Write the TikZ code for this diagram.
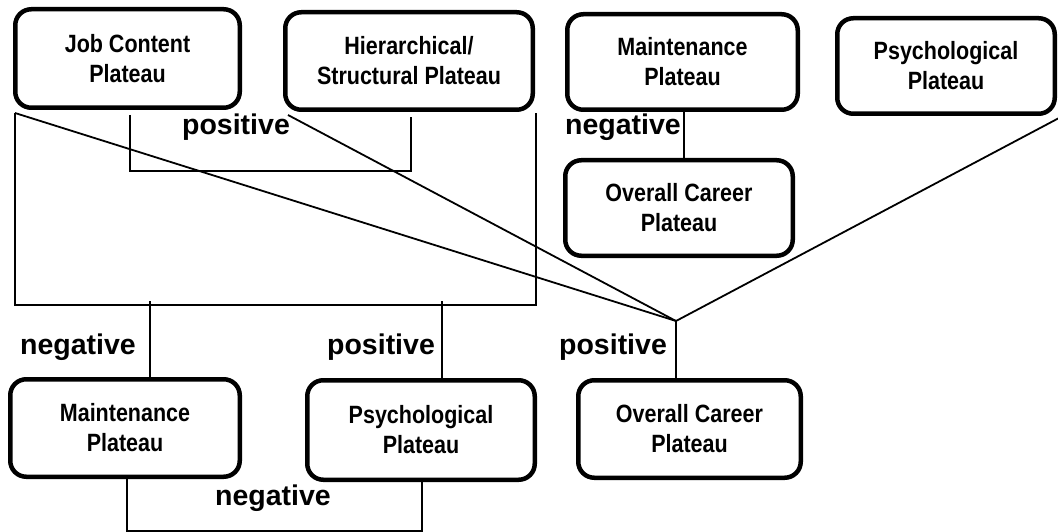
\documentclass[tikz,border=0pt]{standalone}
\usepackage{fontspec}
\setmainfont{Liberation Sans}
\newfontfamily\narrowsans{Liberation Sans}[FakeStretch=0.86]
\begin{document}
\begin{tikzpicture}[x=1pt,y=-1pt,
  plateau/.style={draw, line width=4.5pt, rounded corners=16pt, align=center,
    inner sep=0pt, font=\narrowsans\bfseries\fontsize{25}{30}\selectfont},
  link/.style={line width=1.8pt},
  sign/.style={inner sep=0pt, font=\bfseries\fontsize{28.5}{34}\selectfont}]
\useasboundingbox (0,0) rectangle (1058,532);

% plateau boxes
\node[plateau, minimum width=224.5pt, minimum height=98.5pt] (jc) at (127.5,58.5) {Job Content\\Plateau};
\node[plateau, minimum width=247.5pt, minimum height=97.5pt] (hs) at (409,61) {Hierarchical/\\Structural Plateau};
\node[plateau, minimum width=230.5pt, minimum height=95.5pt] (mt) at (682.5,62) {Maintenance\\Plateau};
\node[plateau, minimum width=217.5pt, minimum height=95.5pt] (pt) at (946,66) {Psychological\\Plateau};
\node[plateau, minimum width=227.5pt, minimum height=95.5pt] (ot) at (679,208) {Overall Career\\Plateau};
\node[plateau, minimum width=229.5pt, minimum height=97.5pt] (mb) at (125,428) {Maintenance\\Plateau};
\node[plateau, minimum width=227.5pt, minimum height=99.5pt] (pb) at (421,430) {Psychological\\Plateau};
\node[plateau, minimum width=222.5pt, minimum height=97.5pt] (ob) at (689.5,429) {Overall Career\\Plateau};

% connection points
\coordinate (jcL) at ([shift={(2,3)}]jc.south west);
\coordinate (jcS) at ([shift={(2.5,5)}]jc.south);
\coordinate (hsL) at ([shift={(5,3)}]hs.south west);
\coordinate (hsS) at ([shift={(2,5)}]hs.south);
\coordinate (hsR) at ([shift={(1,1)}]hs.south east);
\coordinate (ptR) at ([shift={(2,2)}]pt.south east);
\coordinate (apex) at (676,321);

% bracket joining job content and hierarchical plateaus
\draw[link] (jcS) -- ++(0,56) -| (hsS);
% large bracket over both, feeding maintenance and psychological
\draw[link] (jcL) -- ++(0,192) -| (hsR);
\draw[link] ([xshift=25pt]mb.north) -- ++(0,-76);
\draw[link] ([xshift=21pt]pb.north) -- ++(0,-77);
% fan into overall career plateau
\draw[link] (jcL) -- (apex);
\draw[link] (hsL) -- (apex);
\draw[link] (ptR) -- (apex);
\draw[link] (apex) -- (apex |- ob.north);
% maintenance to overall career (top right)
\draw[link] ([xshift=1.5pt]mt.south) -- ([xshift=1.5pt]mt.south |- ot.north);
% maintenance to psychological (bottom)
\draw[link] ([xshift=2pt]mb.south) -- ++(0,52) -| ([xshift=1pt]pb.south);

% relationship signs
\node[sign] (s1) at (236,127) {positive};
\node[sign] (s2) at (623,127) {negative};
\node[sign] (s3) at (78,347) {negative};
\node[sign] (s4) at (381,347) {positive};
\node[sign] (s5) at (613,347) {positive};
\node[sign] (s6) at (273,498) {negative};
\end{tikzpicture}
\end{document}
